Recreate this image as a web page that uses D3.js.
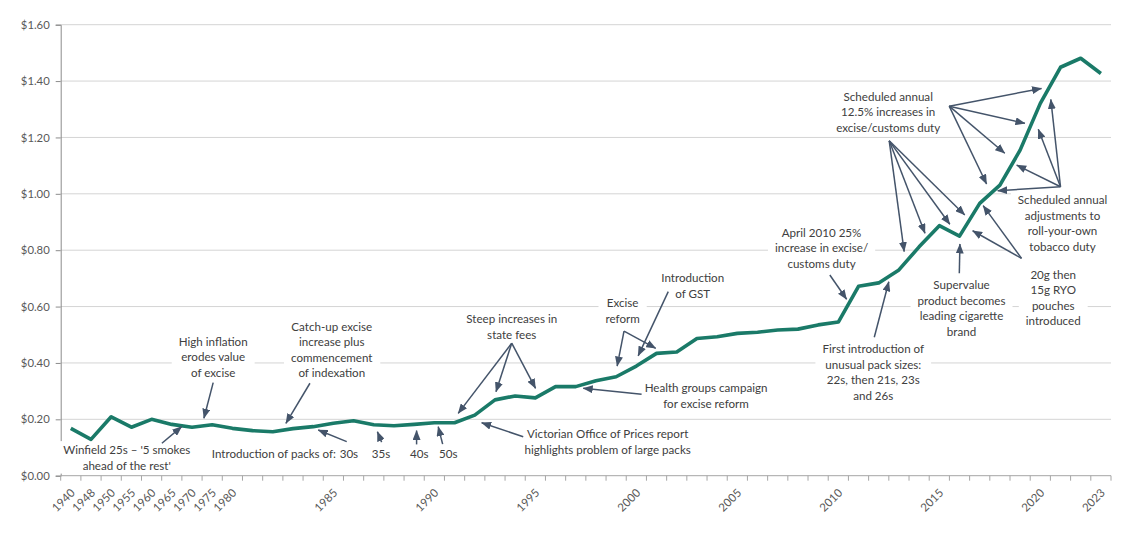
<!DOCTYPE html>
<html><head><meta charset="utf-8">
<script src="https://cdn.jsdelivr.net/npm/d3@7"></script>
<style>
body{margin:0;background:#fff}
svg{display:block}
text{font-family:Lato, "Open Sans", sans-serif}
</style>
</head><body>
<svg id="c" width="1137" height="537"></svg>
<script>
// ---- Data ----
const years = ["1940","1948","1950","1955","1960","1965","1970","1975","1980",
  "1981","1982","1983","1984","1985","1986","1987","1988","1989","1990",
  "1991","1992","1993","1994","1995","1996","1997","1998","1999","2000",
  "2001","2002","2003","2004","2005","2006","2007","2008","2009","2010",
  "2011","2012","2013","2014","2015","2016","2017","2018","2019","2020",
  "2021","2022","2023"];
const prices = [0.168,0.129,0.209,0.172,0.200,0.182,0.172,0.181,0.168,
  0.160,0.156,0.167,0.174,0.186,0.195,0.181,0.177,0.182,0.188,
  0.188,0.215,0.269,0.283,0.276,0.316,0.316,0.337,0.351,0.389,
  0.434,0.439,0.487,0.493,0.505,0.509,0.517,0.520,0.535,0.545,
  0.672,0.684,0.730,0.812,0.887,0.850,0.966,1.031,1.155,1.321,
  1.449,1.481,1.427];
const xTickLabels = ["1940","1948","1950","1955","1960","1965","1970","1975","1980",
  "1985","1990","1995","2000","2005","2010","2015","2020","2023"];
const yTicks = [0,0.2,0.4,0.6,0.8,1.0,1.2,1.4,1.6];

// annotations: positions in chart units (x = band index from left edge, y = $ value)
const labels = [
  {x:3.27, y:0.091, lines:["Winfield 25s \u2013 '5 smokes","ahead of the rest'"]},
  {x:7.55, y:0.475, lines:["High inflation","erodes value","of excise"]},
  {x:13.42,y:0.529, lines:["Catch-up excise","increase plus","commencement","of indexation"]},
  {x:13.63,y:0.076, lines:["Introduction of packs of:"], anchor:"end", bg:false},
  {x:14.27,y:0.076, lines:["30s"], bg:false},
  {x:15.86,y:0.076, lines:["35s"], bg:false},
  {x:17.75,y:0.076, lines:["40s"], bg:false},
  {x:19.19,y:0.076, lines:["50s"], bg:false},
  {x:22.33,y:0.556, lines:["Steep increases in","state fees"]},
  {x:27.08,y:0.148, lines:["Victorian Office of Prices report","highlights problem of large packs"]},
  {x:31.95,y:0.310, lines:["Health groups campaign","for excise reform"]},
  {x:27.82,y:0.612, lines:["Excise","reform"]},
  {x:31.29,y:0.700, lines:["Introduction","of GST"]},
  {x:37.67,y:0.863, lines:["April 2010 25%","increase in excise/","customs duty"]},
  {x:40.23,y:0.449, lines:["First introduction of","unusual pack sizes:","22s, then 21s, 23s","and 26s"]},
  {x:44.60,y:0.676, lines:["Supervalue","product becomes","leading cigarette","brand"]},
  {x:49.14,y:0.714, lines:["20g then","15g  RYO","pouches","introduced"]},
  {x:40.97,y:1.344, lines:["Scheduled annual","12.5% increases in","excise/customs duty"]},
  {x:49.60,y:0.978, lines:["Scheduled annual","adjustments to","roll-your-own","tobacco duty"]}
];
const arrows = [
  [[5.01,0.115],[5.99,0.174]],
  [[7.55,0.330],[7.09,0.204]],
  [[12.34,0.328],[11.15,0.186]],
  [[14.16,0.121],[12.75,0.162]],
  [[15.89,0.119],[15.68,0.156]],
  [[17.62,0.111],[17.62,0.160]],
  [[18.91,0.112],[18.69,0.174]],
  [[22.33,0.470],[19.68,0.221]],
  [[22.33,0.470],[21.55,0.298]],
  [[22.33,0.470],[23.51,0.310]],
  [[22.90,0.138],[20.84,0.188]],
  [[28.76,0.289],[25.87,0.310]],
  [[27.89,0.513],[27.55,0.389]],
  [[27.89,0.513],[29.46,0.452]],
  [[30.08,0.653],[28.59,0.425]],
  [[38.08,0.712],[38.91,0.626]],
  [[40.28,0.491],[41.00,0.688]],
  [[44.49,0.718],[44.52,0.822]],
  [[47.57,0.771],[45.67,0.958]],
  [[47.57,0.771],[45.15,0.869]],
  [[41.02,1.188],[41.76,0.795]],
  [[41.02,1.188],[42.79,0.860]],
  [[41.02,1.188],[44.02,0.892]],
  [[41.02,1.188],[44.76,0.925]],
  [[43.99,1.311],[48.56,1.374]],
  [[43.99,1.311],[47.74,1.250]],
  [[43.99,1.311],[46.74,1.144]],
  [[43.99,1.311],[45.84,1.035]],
  [[49.50,1.025],[46.39,1.011]],
  [[49.50,1.025],[47.33,1.102]],
  [[49.50,1.025],[48.40,1.229]],
  [[49.50,1.025],[49.02,1.335]]
];

// ---- Layout ----
const W = 1137, H = 537;
const m = {left:60.7, right:26, top:24.7, bottom:61.3};
const svg = d3.select("#c");
const x = d3.scaleBand().domain(years).range([m.left, W - m.right]).padding(0);
const xi = d3.scaleLinear().domain([0, years.length]).range([m.left, W - m.right]);
const y = d3.scaleLinear().domain([0, 1.6]).range([H - m.bottom, m.top]);
const bw = x.bandwidth();

// gridlines
svg.append("g").selectAll("line").data(yTicks.filter(d => d > 0)).join("line")
  .attr("x1", m.left).attr("x2", W - m.right)
  .attr("y1", d => y(d)).attr("y2", d => y(d))
  .attr("stroke", "#d4d4d4").attr("stroke-width", 1);

// y axis
const yAxis = svg.append("g").attr("transform", `translate(${m.left},0)`)
  .call(d3.axisLeft(y).tickValues(yTicks).tickFormat(d => "$" + d.toFixed(2)).tickSize(5).tickPadding(6));
yAxis.select(".domain").attr("stroke", "#8c8c8c");
yAxis.selectAll(".tick line").attr("stroke", "#8c8c8c");
yAxis.selectAll("text").attr("fill", "#595959").style("font-size", "11.3px").style("font-family", "Lato");

// x axis
const xg = svg.append("g");
xg.append("line").attr("x1", m.left).attr("x2", W - m.right)
  .attr("y1", y(0)).attr("y2", y(0)).attr("stroke", "#a6a6a6");
xg.selectAll("line.tk").data(years.concat(["__end"])).join("line").attr("class", "tk")
  .attr("x1", d => d === "__end" ? W - m.right : x(d))
  .attr("x2", d => d === "__end" ? W - m.right : x(d))
  .attr("y1", y(0)).attr("y2", y(0) + 5).attr("stroke", "#a6a6a6");
xg.selectAll("text").data(years.filter(d => xTickLabels.includes(d))).join("text")
  .attr("transform", d => `translate(${x(d) + bw / 2 + 2},${y(0) + 15}) rotate(-45)`)
  .attr("text-anchor", "end").attr("dy", "0.35em")
  .attr("fill", "#595959").style("font-size", "11.5px")
  .text(d => d);

// annotation labels
const annG = svg.append("g");
const lh = 15.5;
labels.forEach(l => {
  const g = annG.append("g");
  const t = g.append("text").attr("text-anchor", l.anchor || "middle")
    .attr("fill", "#404040").style("font-size", "11.6px");
  l.lines.forEach((s, i) => {
    t.append("tspan").attr("x", xi(l.x)).attr("y", y(l.y) + i * lh).attr("dy", "0.35em").text(s);
  });
  if (l.bg !== false) {
    const b = t.node().getBBox();
    g.insert("rect", "text").attr("x", b.x - 7).attr("y", b.y - 2)
      .attr("width", b.width + 14).attr("height", b.height + 4).attr("fill", "#fff");
  }
});

// line
svg.append("path").datum(prices)
  .attr("fill", "none").attr("stroke", "#1a7a68").attr("stroke-width", 3.6)
  .attr("stroke-linejoin", "round")
  .attr("d", d3.line().x((d, i) => x(years[i]) + bw / 2).y(d => y(d)));

// arrows
svg.append("defs").append("marker").attr("id", "ah")
  .attr("viewBox", "0 0 10 8").attr("refX", 9.5).attr("refY", 4)
  .attr("markerUnits", "userSpaceOnUse").attr("markerWidth", 10).attr("markerHeight", 8)
  .attr("orient", "auto")
  .append("path").attr("d", "M0,0 L10,4 L0,8 Z").attr("fill", "#44546a");
svg.append("g").selectAll("line").data(arrows).join("line")
  .attr("x1", d => xi(d[0][0])).attr("y1", d => y(d[0][1]))
  .attr("x2", d => xi(d[1][0])).attr("y2", d => y(d[1][1]))
  .attr("stroke", "#44546a").attr("stroke-width", 1.5)
  .attr("marker-end", "url(#ah)");
</script>
</body></html>
